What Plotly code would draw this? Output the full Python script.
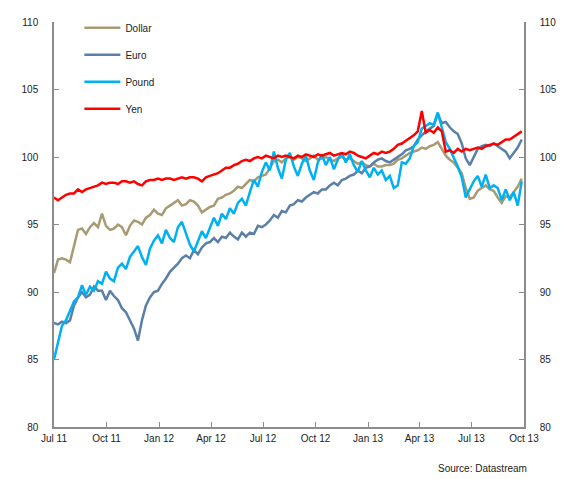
import pandas as pd
import plotly.graph_objects as go

dates = pd.date_range("2011-07-01", periods=118, freq="7D")

dollar = [91.4, 92.4, 92.5, 92.4, 92.2, 93.4, 94.6, 94.7, 94.3, 94.8,
          95.1, 94.8, 95.8, 94.9, 94.6, 94.7, 95.0, 94.8, 94.2, 94.9,
          95.3, 95.2, 95.0, 95.5, 95.7, 96.1, 95.8, 95.7, 96.2, 96.4,
          96.6, 96.8, 96.4, 96.5, 96.8, 96.7, 96.4, 95.9, 96.1, 96.3,
          96.4, 96.9, 97.0, 97.2, 97.3, 97.5, 97.8, 97.7, 98.0, 98.3,
          98.2, 98.5, 98.6, 98.7, 99.2, 99.7, 99.8, 99.6, 99.9, 100.0,
          99.8, 100.0, 99.9, 99.7, 99.9, 100.1, 99.8, 99.9, 100.0, 99.8,
          99.7, 99.9, 100.0, 99.8, 99.9, 99.7, 99.5, 99.6, 99.4, 99.3,
          99.5, 99.3, 99.3, 99.4, 99.4, 99.5, 99.8, 99.9, 100.1, 100.3,
          100.4, 100.5, 100.7, 100.6, 100.8, 100.9, 101.1, 100.6, 100.1, 99.8,
          99.6, 99.2, 98.8, 97.7, 96.9, 97.0, 97.5, 97.7, 97.9, 97.6,
          97.5, 97.0, 96.6, 97.1, 97.0, 97.4, 97.8, 98.4]

euro = [87.7, 87.6, 87.8, 87.7, 87.9, 89.0, 89.6, 90.0, 89.6, 89.8,
        90.4, 90.1, 90.1, 89.4, 90.1, 89.7, 89.4, 88.8, 88.5, 87.9,
        87.3, 86.4, 87.9, 89.0, 89.6, 90.0, 90.1, 90.6, 91.0, 91.5,
        91.8, 92.1, 92.5, 92.7, 92.5, 93.1, 92.8, 93.3, 93.6, 93.7,
        94.0, 93.7, 94.1, 94.0, 94.4, 94.1, 93.9, 94.4, 94.1, 94.4,
        94.3, 94.9, 94.8, 95.0, 95.3, 95.7, 95.5, 96.0, 95.9, 96.4,
        96.5, 96.8, 96.7, 97.0, 97.2, 97.4, 97.3, 97.6, 97.6, 97.9,
        98.1, 97.9, 98.3, 98.4, 98.6, 98.7, 99.0, 98.8, 99.2, 99.3,
        99.6, 99.8, 99.9, 99.7, 99.6, 99.8, 100.0, 100.2, 100.5, 100.6,
        100.8, 101.3, 101.6, 101.9, 102.1, 102.3, 103.2, 102.5, 102.6, 102.2,
        101.9, 101.7, 101.0, 99.9, 99.4, 100.0, 100.6, 100.8, 100.9, 100.8,
        101.0, 100.8, 100.6, 100.4, 99.9, 100.3, 100.7, 101.3]

pound = [85.0, 86.2, 87.5, 87.9, 88.6, 89.3, 89.6, 90.5, 89.8, 90.4,
         90.1, 90.8, 90.6, 91.5, 91.0, 90.8, 91.8, 92.1, 91.7, 92.6,
         93.0, 93.4, 92.6, 92.0, 93.2, 93.8, 94.2, 93.6, 94.6, 94.0,
         93.7, 94.8, 95.2, 94.3, 93.5, 93.0, 93.8, 94.5, 94.0, 94.8,
         95.5, 94.9, 95.8, 95.4, 96.2, 95.8, 96.6, 96.9, 96.4, 97.4,
         98.3, 97.8, 98.9, 99.6, 99.0, 100.4, 99.2, 98.4, 99.8, 100.3,
         99.3, 98.6, 99.5, 100.1, 99.0, 98.3, 99.6, 100.2, 99.4, 100.0,
         99.1, 99.8, 100.3, 99.6, 100.2, 99.4, 98.9, 99.7, 99.0, 98.5,
         99.2, 98.7, 99.0, 98.3, 98.6, 97.7, 97.9, 99.6, 99.5, 99.9,
         100.8, 101.1, 102.1, 102.3, 102.5, 102.4, 103.3, 102.2, 101.1, 100.6,
         100.0, 99.3, 98.5, 97.0, 97.6, 98.2, 98.6, 97.8, 98.7, 97.7,
         97.9, 97.7, 96.8, 97.6, 96.8, 97.4, 96.4, 98.2]

yen = [97.0, 96.8, 97.0, 97.2, 97.3, 97.3, 97.6, 97.4, 97.6, 97.7,
       97.8, 97.9, 98.1, 98.0, 98.1, 98.1, 98.0, 98.2, 98.2, 98.1,
       98.2, 98.0, 97.9, 98.2, 98.3, 98.3, 98.4, 98.3, 98.4, 98.4,
       98.3, 98.4, 98.5, 98.4, 98.5, 98.5, 98.4, 98.2, 98.5, 98.6,
       98.7, 98.8, 99.0, 99.2, 99.2, 99.4, 99.5, 99.7, 99.8, 99.7,
       99.9, 100.0, 99.9, 100.1, 100.0, 99.9, 100.1, 100.0, 100.1, 100.0,
       99.9, 100.1, 100.0, 100.2, 100.1, 100.0, 100.2, 100.1, 100.2, 100.3,
       100.1, 100.2, 100.3, 100.2, 100.4, 100.3, 100.1, 100.0, 99.9, 100.1,
       100.3, 100.2, 100.4, 100.3, 100.4, 100.6, 100.9, 101.0, 101.2, 101.4,
       101.6, 101.9, 103.4, 101.8, 102.0, 101.8, 102.2, 101.9, 100.4, 100.5,
       100.3, 100.6, 100.4, 100.6, 100.5, 100.6, 100.7, 100.6, 100.8, 100.9,
       101.0, 100.9, 101.1, 101.3, 101.3, 101.5, 101.7, 101.9]

series_names = ["Dollar", "Euro", "Pound", "Yen"]
series_values = [dollar, euro, pound, yen]
series_colors = ["#A89B74", "#5A7FA8", "#00B0F0", "#FF0000"]

tick_dates = ["2011-07-01", "2011-10-01", "2012-01-01", "2012-04-01", "2012-07-01",
              "2012-10-01", "2013-01-01", "2013-04-01", "2013-07-01", "2013-10-01"]
tick_labels = ["Jul 11", "Oct 11", "Jan 12", "Apr 12", "Jul 12",
               "Oct 12", "Jan 13", "Apr 13", "Jul 13", "Oct 13"]
y_ticks = [80, 85, 90, 95, 100, 105, 110]

fig = go.Figure()
for i, (name, vals, col) in enumerate(zip(series_names, series_values, series_colors)):
    fig.add_trace(go.Scatter(x=dates, y=vals, name=name, mode="lines",
                             line=dict(color=col, width=2.5),
                             legendgroup=f"g{i}"))
# invisible trace to carry the right-hand axis
fig.add_trace(go.Scatter(x=dates, y=yen, yaxis="y2", mode="lines",
                         line=dict(color="rgba(0,0,0,0)"), showlegend=False,
                         hoverinfo="skip"))

axis_col = "#8C8C8C"
font = dict(family="Liberation Sans, Arial, sans-serif", size=10, color="#222222")

# the page body adds an 8px offset, margins compensate for it
fig.update_layout(
    width=570, height=479,
    margin=dict(l=46, r=54, t=14, b=60, autoexpand=False),
    paper_bgcolor="white", plot_bgcolor="white",
    font=font,
    showlegend=True,
    legend=dict(x=0.054, y=0.989, xref="paper", yref="container",
                xanchor="left", yanchor="top",
                bgcolor="rgba(0,0,0,0)", font=dict(size=10),
                traceorder="grouped", tracegroupgap=8, itemwidth=36),
    xaxis=dict(type="date", range=["2011-07-01", "2013-10-01"],
               tickvals=tick_dates, ticktext=tick_labels,
               ticks="inside", ticklen=5, tickcolor=axis_col,
               showline=True, linecolor=axis_col, linewidth=1.5,
               showgrid=False, zeroline=False, ticklabelstandoff=1),
    yaxis=dict(range=[80, 110], tickvals=y_ticks,
               ticks="inside", ticklen=5, tickcolor=axis_col,
               showline=True, linecolor=axis_col, linewidth=1.5,
               showgrid=False, zeroline=False, ticklabelstandoff=12),
    yaxis2=dict(range=[80, 110], tickvals=y_ticks, overlaying="y", side="right",
                ticks="inside", ticklen=5, tickcolor=axis_col,
                showline=True, linecolor=axis_col, linewidth=1.5,
                showgrid=False, zeroline=False, ticklabelstandoff=12),
    annotations=[dict(text="Source: Datastream", xref="paper", yref="paper",
                      x=1.01, y=-0.085, xanchor="right", yanchor="top",
                      showarrow=False, font=dict(size=10))],
)

fig.write_html("out.html")
